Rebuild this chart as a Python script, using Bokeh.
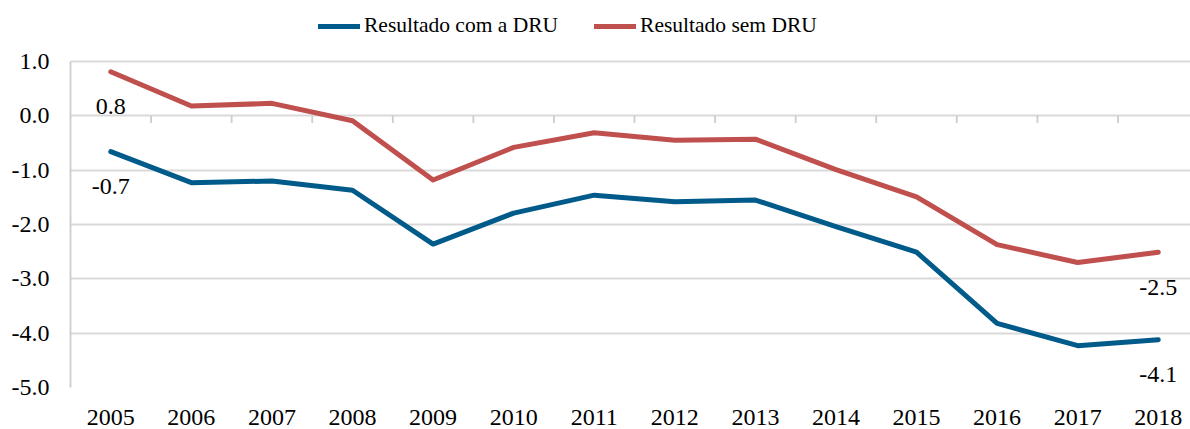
from bokeh.plotting import figure
from bokeh.models import Range1d, FixedTicker, NumeralTickFormatter, Legend, LegendItem, ColumnDataSource
from bokeh.core.properties import value
from bokeh.embed import file_html
from bokeh.resources import INLINE

years = [2005, 2006, 2007, 2008, 2009, 2010, 2011, 2012, 2013, 2014, 2015, 2016, 2017, 2018]
com_dru = [-0.66, -1.23, -1.20, -1.37, -2.36, -1.79, -1.46, -1.58, -1.55, -2.04, -2.51, -3.82, -4.23, -4.12]
sem_dru = [0.81, 0.18, 0.23, -0.09, -1.18, -0.58, -0.31, -0.45, -0.43, -0.99, -1.49, -2.37, -2.70, -2.51]
y_ticks = [-5, -4, -3, -2, -1, 0, 1]
series_names = ["Resultado com a DRU", "Resultado sem DRU"]

BLUE = "#005a8a"
RED = "#c0504d"
GRID = "#d9d9d9"
AXIS = "#cccccc"
FONT = "Liberation Serif"

p = figure(width=1190, height=437, output_backend="svg", toolbar_location=None,
           x_range=Range1d(2004.5, 2018.4), y_range=Range1d(-5, 2.1227),
           min_border_left=70, min_border_right=0, min_border_top=0, min_border_bottom=50)
p.outline_line_color = None
p.background_fill_color = "white"

# grid
p.xgrid.visible = False
p.ygrid.ticker = FixedTicker(ticks=y_ticks)
p.ygrid.grid_line_color = GRID
p.ygrid.grid_line_width = 1.8

# y axis
p.yaxis.ticker = FixedTicker(ticks=y_ticks)
p.yaxis.bounds = (y_ticks[0], y_ticks[-1])
p.yaxis.formatter = NumeralTickFormatter(format="0.0")
p.yaxis.axis_line_color = AXIS
p.yaxis.axis_line_width = 1.8
p.yaxis.major_tick_line_color = None
p.yaxis.minor_tick_line_color = None
p.yaxis.major_label_standoff = 15
p.yaxis.major_label_text_font = FONT
p.yaxis.major_label_text_font_size = "24px"
p.yaxis.major_label_text_color = "black"

# x axis (labels only, at bottom)
p.xaxis.ticker = FixedTicker(ticks=years)
p.xaxis.axis_line_color = None
p.xaxis.major_tick_line_color = None
p.xaxis.minor_tick_line_color = None
p.xaxis.major_label_standoff = 16
p.xaxis.major_label_text_font = FONT
p.xaxis.major_label_text_font_size = "24px"
p.xaxis.major_label_text_color = "black"

# category boundary ticks on the zero line
bounds = [y + 0.5 for y in years[:-1]]
p.segment(x0=bounds, y0=[0] * len(bounds), x1=bounds, y1=[-0.13] * len(bounds),
          line_color=AXIS, line_width=1.8)

r1 = p.line(years, com_dru, line_color=BLUE, line_width=5, line_join="round", line_cap="round")
r2 = p.line(years, sem_dru, line_color=RED, line_width=5, line_join="round", line_cap="round")

# data labels at first and last points
lab_x = [years[0], years[-1], years[0], years[-1]]
lab_y = [sem_dru[0], sem_dru[-1], com_dru[0], com_dru[-1]]
lab_t = ["%.1f" % v for v in lab_y]
src = ColumnDataSource(dict(x=lab_x, y=lab_y, t=lab_t))
p.text(x="x", y="y", text="t", source=src, text_align="center", text_baseline="middle",
       y_offset=35, text_font=value(FONT), text_font_size="24px", text_color="black")

legend = Legend(items=[LegendItem(label=series_names[0], renderers=[r1]),
                       LegendItem(label=series_names[1], renderers=[r2])],
                orientation="horizontal", location=(248, 349))
legend.border_line_color = None
legend.background_fill_alpha = 0
legend.padding = 0
legend.margin = 0
legend.spacing = 36
legend.glyph_width = 42
legend.label_standoff = 4
legend.label_text_font = FONT
legend.label_text_font_size = "21.5px"
legend.label_text_color = "black"
p.add_layout(legend, "center")

open("out.html", "w").write(file_html(p, INLINE))
